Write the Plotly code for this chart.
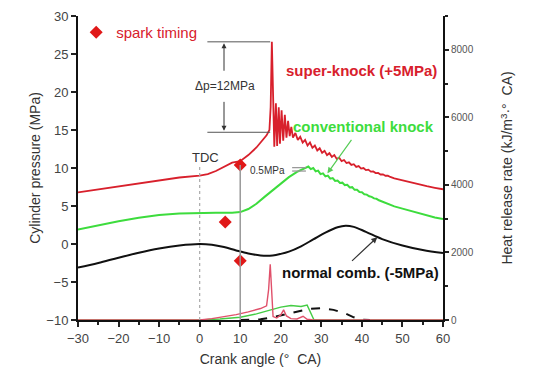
import plotly.graph_objects as go

# ---------------- data ----------------
# super-knock cylinder pressure (+5 MPa offset)
sk_x = [-30, -25, -20, -15, -10, -5, 0, 2, 4, 6, 8, 10, 12, 14, 15.5, 16.5, 17.2, 17.5, 17.8, 18.1,
        18.4, 18.8, 19.1, 19.5, 19.8, 20.2, 20.6, 21.0, 21.4, 21.8, 22.2, 22.6,
        23.0, 23.6, 24.2, 24.8, 25.4, 26.0, 26.6, 27.2, 27.8, 28.4, 29.0, 29.6, 30.2, 30.8,
        31.4, 32.0, 32.6, 33.2, 33.8, 34.4, 35.0, 35.6, 36.2, 36.8, 37.4, 38.0, 38.6, 39.2,
        39.8, 40.4, 41.0, 41.6, 42.2, 42.8, 43.4, 44.0, 44.6, 45.2, 45.8, 46.4, 47.0,
        48, 50, 52, 54, 56, 58, 60]
sk_p = [6.8, 7.2, 7.6, 8.0, 8.4, 8.75, 9.0, 9.2, 9.6, 10.1, 10.7, 10.9, 11.7, 12.7, 13.6, 14.3, 15.0, 18.0, 26.6, 20.0,
        12.8, 18.5, 12.9, 18.0, 13.2, 17.6, 13.6, 17.0, 14.0, 16.2, 14.2, 15.4,
        14.0, 14.6, 13.7, 14.1, 13.35, 13.7, 12.95, 13.35, 12.65, 12.95, 12.3, 12.6, 12.0, 12.25,
        11.7, 11.95, 11.45, 11.7, 11.2, 11.35, 10.9, 11.05, 10.65, 10.75, 10.4, 10.5, 10.15, 10.25,
        9.93, 10.0, 9.72, 9.78, 9.52, 9.55, 9.33, 9.35, 9.15, 9.17, 8.98, 9.0, 8.82,
        8.65, 8.38, 8.1, 7.85, 7.6, 7.4, 7.2]

# conventional knock cylinder pressure
ck_x = [-30, -25, -20, -15, -10, -5, 0, 4, 8, 10, 12, 14, 16, 18, 20, 22, 24, 25.5, 26.8,
        27.4, 28.0, 28.6, 29.2, 29.8, 30.4, 31.0, 31.6, 32.2, 32.8, 33.4, 34.0, 34.6, 35.2,
        35.8, 36.4, 37.0, 37.6, 38.2, 38.8, 39.4, 40.0, 40.6, 41.2, 41.8, 42.4, 43.0, 43.6,
        44.2, 46, 48, 50, 52, 55, 58, 60]
ck_p = [1.9, 2.5, 3.0, 3.45, 3.8, 4.0, 4.1, 4.1, 4.1, 4.2, 4.6, 5.3, 6.2, 7.1, 8.0, 8.8, 9.5, 9.9, 10.2,
        9.85, 10.0, 9.55, 9.65, 9.2, 9.3, 8.9, 9.0, 8.6, 8.68, 8.3, 8.35, 8.03, 8.07,
        7.75, 7.8, 7.45, 7.48, 7.13, 7.13, 6.83, 6.8, 6.55, 6.5, 6.27, 6.2, 6.0, 5.95,
        5.75, 5.35, 4.95, 4.65, 4.35, 3.9, 3.5, 3.3]

# normal combustion cylinder pressure (-5 MPa offset)
nc_x = [-30, -25, -20, -15, -10, -5, 0, 3, 6, 9, 12, 15, 18, 20, 22, 25, 28, 31, 34, 36, 38, 41, 45, 50, 55, 60]
nc_p = [-3.1, -2.5, -1.8, -1.15, -0.6, -0.2, 0.0, -0.1, -0.4, -0.85, -1.25, -1.5, -1.5, -1.3, -1.0, -0.3,
        0.6, 1.5, 2.2, 2.4, 2.25, 1.6, 0.65, -0.2, -0.8, -1.2]

# heat release rates
sk_hr_x = [-30, 0, 3, 6, 9, 12, 15, 16.5, 17.0, 17.4, 17.8, 18.1, 19, 20, 20.7, 21.4, 22.5, 24, 25.5, 26.5, 28, 60]
sk_hr = [0, 0, 40, 90, 160, 240, 340, 420, 900, 1650, 900, 100, 60, 150, 300, 120, 40, 30, 110, 20, 0, 0]

ck_hr_x = [-30, 0, 5, 10, 14, 17, 20, 22.5, 25, 26.5, 27.3, 28.2, 60]
ck_hr = [0, 0, 30, 80, 180, 280, 380, 430, 400, 440, 250, 0, 0]

nc_hr_x = [10, 15, 18, 21, 24, 27, 30, 33, 36, 38, 40, 42]
nc_hr = [0, 20, 80, 170, 260, 330, 350, 300, 190, 80, 10, 0]

# spark timing markers
spark_x = [10, 6.3, 10]
spark_p = [10.4, 2.9, -2.2]

# axis ticks
x_ticks = [-30, -20, -10, 0, 10, 20, 30, 40, 50, 60]
p_ticks = [-10, -5, 0, 5, 10, 15, 20, 25, 30]
hr_ticks = [0, 2000, 4000, 6000, 8000]

RED = "#d8202c"
GREEN = "#3ddc3d"
BLACK = "#111111"
FONT = "Liberation Sans, Arial, sans-serif"

fig = go.Figure()

# heat release (right axis)
fig.add_trace(go.Scatter(x=ck_hr_x, y=ck_hr, mode="lines", line=dict(color="#44cc44", width=1.4),
                         yaxis="y2", showlegend=False, hoverinfo="skip"))
fig.add_trace(go.Scatter(x=nc_hr_x, y=nc_hr, mode="lines", line=dict(color=BLACK, width=2, dash="dash"),
                         yaxis="y2", showlegend=False, hoverinfo="skip"))
fig.add_trace(go.Scatter(x=sk_hr_x, y=sk_hr, mode="lines", line=dict(color="#e0506a", width=1.4),
                         yaxis="y2", showlegend=False, hoverinfo="skip"))

# pressures
fig.add_trace(go.Scatter(x=nc_x, y=nc_p, mode="lines", line=dict(color=BLACK, width=2, shape="spline"),
                         showlegend=False))
fig.add_trace(go.Scatter(x=ck_x, y=ck_p, mode="lines", line=dict(color=GREEN, width=2),
                         showlegend=False))
fig.add_trace(go.Scatter(x=sk_x, y=sk_p, mode="lines", line=dict(color=RED, width=1.8),
                         showlegend=False))

fig.add_trace(go.Scatter(x=spark_x, y=spark_p, mode="markers", name="spark timing",
                         marker=dict(symbol="diamond", size=10, color="#e01818"), showlegend=True))

shapes = [
    dict(type="line", xref="x", yref="y", x0=0, x1=0, y0=-10, y1=10.4,
         line=dict(color="#aaaaaa", width=1.2, dash="dot")),
    dict(type="line", xref="x", yref="y", x0=10, x1=10, y0=-10, y1=10.4,
         line=dict(color="#999999", width=1.5)),
    dict(type="line", xref="x", yref="y", x0=1.9, x1=17.4, y0=26.6, y1=26.6,
         line=dict(color="#555555", width=1)),
    dict(type="line", xref="x", yref="y", x0=1.9, x1=17.4, y0=14.7, y1=14.7,
         line=dict(color="#555555", width=1)),
    dict(type="line", xref="x", yref="y", x0=22.8, x1=26.2, y0=10.05, y1=10.05,
         line=dict(color="#999999", width=1.3)),
    dict(type="line", xref="x", yref="y", x0=22.8, x1=26.2, y0=9.6, y1=9.6,
         line=dict(color="#999999", width=1.3)),
]

ann = [
    dict(x=1.5, y=11.4, text="TDC", showarrow=False, font=dict(size=13, color="#333")),
    dict(x=6.2, y=20.8, text="Δp=12MPa", showarrow=False, font=dict(size=12, color="#333")),
    dict(x=16.7, y=9.7, text="0.5MPa", showarrow=False, font=dict(size=10, color="#333")),
    dict(x=39.8, y=22.8, text="<b>super-knock (+5MPa)</b>", showarrow=False, font=dict(size=15, color=RED)),
    dict(x=40.4, y=15.4, text="<b>conventional knock</b>", showarrow=False, font=dict(size=15, color=GREEN)),
    dict(x=39.6, y=-3.7, text="<b>normal comb. (-5MPa)</b>", showarrow=False, font=dict(size=15, color=BLACK)),
    # arrows
    dict(x=6, y=26.4, ax=6, ay=22.6, axref="x", ayref="y", text="", showarrow=True,
         arrowhead=2, arrowsize=1, arrowwidth=1, arrowcolor="#333"),
    dict(x=6, y=14.9, ax=6, ay=18.9, axref="x", ayref="y", text="", showarrow=True,
         arrowhead=2, arrowsize=1, arrowwidth=1, arrowcolor="#333"),
    dict(x=31.5, y=9.3, ax=37.7, ay=13.9, axref="x", ayref="y", text="", showarrow=True,
         arrowhead=2, arrowsize=1, arrowwidth=1.2, arrowcolor="#55cc55"),
    dict(x=43.8, y=0.9, ax=37.2, ay=-2.4, axref="x", ayref="y", text="", showarrow=True,
         arrowhead=2, arrowsize=1, arrowwidth=1.2, arrowcolor="#333"),
]

# page body has an 8px default margin, so the figure is offset by 8px
fig.update_layout(
    width=533, height=385,
    margin=dict(l=70, r=98, t=8, b=73, autoexpand=False),
    paper_bgcolor="white", plot_bgcolor="white",
    font=dict(family=FONT, color="#333"),
    shapes=shapes, annotations=ann,
    legend=dict(x=-0.005, y=1.0, xanchor="left", yanchor="top", bgcolor="rgba(0,0,0,0)",
                font=dict(size=15, color=RED), itemwidth=30, tracegroupgap=0),
    xaxis=dict(range=[-30, 60], tickvals=x_ticks, ticks="outside", ticklen=5, tickwidth=2,
               tickcolor="#222", showline=True, linecolor="#111", linewidth=2, showgrid=False,
               zeroline=False, tickfont=dict(size=13, color="#444"),
               minor=dict(dtick=5, ticks="outside", ticklen=3, tickwidth=2, tickcolor="#222"),
               title=dict(text="Crank angle (°\u00a0\u00a0CA)", font=dict(size=14, color="#333"), standoff=10)),
    yaxis=dict(range=[-10, 30], tickvals=p_ticks, ticks="outside", ticklen=5, tickwidth=2,
               tickcolor="#222", showline=True, linecolor="#111", linewidth=2, showgrid=False,
               zeroline=False, tickfont=dict(size=13, color="#444"),
               title=dict(text="Cylinder pressure (MPa)", font=dict(size=14, color="#333"), standoff=2)),
    yaxis2=dict(range=[0, 9000], overlaying="y", side="right", tickvals=hr_ticks, ticks="outside",
                ticklen=4, tickwidth=1.5, tickcolor="#222", showline=True, linecolor="#111", linewidth=2,
                showgrid=False, zeroline=False, tickfont=dict(size=10, color="#555"),
                minor=dict(dtick=1000, ticks="outside", ticklen=3, tickwidth=1.5, tickcolor="#222"),
                title=dict(text="Heat release rate (kJ/m<sup>3</sup>·°\u00a0\u00a0CA)",
                           font=dict(size=14, color="#333"), standoff=30)),
)

fig.write_html("out.html")
